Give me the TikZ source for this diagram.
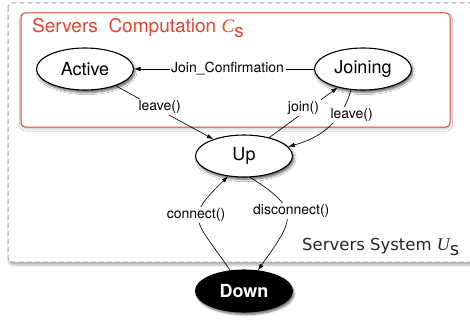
\documentclass[tikz,border=0pt]{standalone}
\usepackage{fontspec}
\setmainfont{TeX Gyre Heros}
\newfontfamily\dejavu{DejaVu Sans}
\newfontfamily\tserif{Liberation Serif}
\usetikzlibrary{shapes.geometric,arrows.meta,shadows.blur}
\definecolor{boxred}{HTML}{E8452C}
\definecolor{dashgray}{HTML}{A8A8A8}
\begin{document}
\begin{tikzpicture}[x=1pt,y=1pt,
  state/.style={ellipse, draw=black, line width=1.1pt, fill=white,
    minimum width=97pt, minimum height=42pt, inner sep=0pt,
    font=\fontsize{18}{20}\selectfont,
    blur shadow={shadow xshift=1.5pt, shadow yshift=-2.5pt, shadow blur steps=6, shadow opacity=60}},
  trans/.style={-{Latex[length=6.5pt,width=4.5pt]}, line width=0.65pt},
  lab/.style={fill=white, inner sep=1.5pt, font=\fontsize{14}{16}\selectfont}
]
\useasboundingbox (0,0) rectangle (470,-321);
% outer system box
\draw[dashgray, line width=1pt, dash pattern=on 5pt off 3pt, rounded corners=4pt, fill=white,
  blur shadow={shadow xshift=0.5pt, shadow yshift=-3pt, shadow blur steps=5, shadow opacity=30}]
  (8,-3) rectangle (490,-262);
% computation box
\draw[boxred, line width=1pt, rounded corners=4pt, fill=white,
  blur shadow={shadow xshift=0.5pt, shadow yshift=-2pt, shadow blur steps=5, shadow opacity=20}]
  (21,-13) rectangle (450,-127);
\node[anchor=base west, text=boxred, font=\fontsize{19}{21}\selectfont, inner sep=0pt] (title) at (32,-33)
  {Servers\ \ Computation {\tserif\itshape C}\raisebox{-5pt}{s}};
\node[anchor=base west, text=black!85, font=\dejavu\fontsize{16.5}{18}\selectfont, inner sep=0pt] (systitle) at (302,-250)
  {Servers System {\tserif\itshape\fontsize{18}{20}\selectfont U}\raisebox{-5pt}{\fontsize{18}{20}\selectfont s}};
% states
\node[state] (active) at (85,-69) {Active};
\node[state] (joining) at (363,-69) {Joining};
\node[state] (up) at (244,-156) {Up};
\node[state, fill=black, text=white, font=\bfseries\fontsize{18}{20}\selectfont] (down) at (244,-291) {Down};
% transitions
\draw[trans] (joining) -- node[lab, pos=0.48]{Join\_Confirmation} (active);
\draw[trans] (active) -- node[lab, pos=0.45, yshift=3pt]{leave()} (up);
\draw[trans] (up) -- node[lab, pos=0.5, yshift=5pt]{join()} (joining);
\draw[trans] (joining.-120) to[out=-105, in=15] node[lab, pos=0.3, xshift=12pt]{leave()} (up.12);
\draw[trans] (down.124) to[out=124, in=-136, looseness=1.7] node[lab, pos=0.58, xshift=-3pt]{connect()} (up.-128);
\draw[trans] (up.-74) to[out=-32, in=55, looseness=1.7] node[lab, pos=0.42, xshift=5pt]{disconnect()} (down.56);
\end{tikzpicture}
\end{document}
